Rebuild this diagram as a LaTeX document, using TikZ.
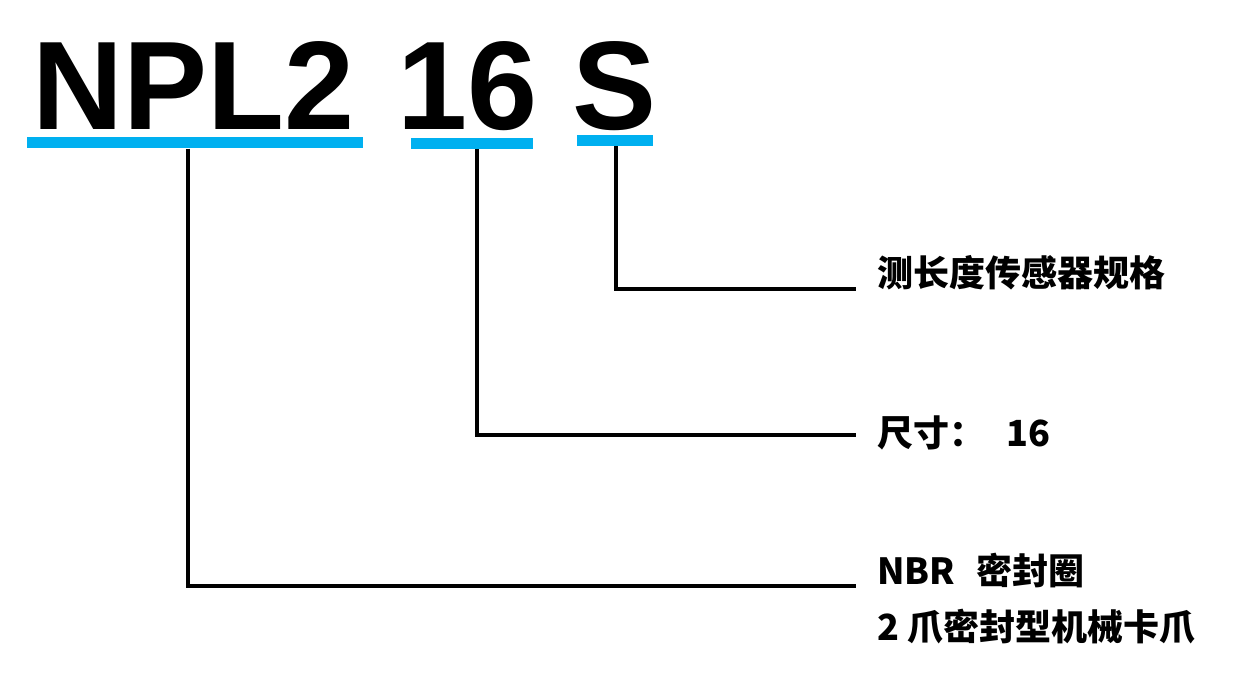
\documentclass[tikz,border=0pt]{standalone}
\usepackage{fontspec}
\setmainfont{Liberation Sans}
\newfontfamily\cjk{Noto Sans CJK SC}
\usetikzlibrary{positioning}
\definecolor{barblue}{RGB}{0,176,240}
\tikzset{
  code/.style={anchor=base west,inner sep=0pt,font=\fontsize{126}{130}\selectfont\bfseries},
  bar/.style={fill=barblue,inner sep=0pt,minimum height=11pt},
  lbl/.style={anchor=west,inner sep=0pt,font=\cjk\bfseries\fontsize{36}{40}\selectfont},
  lead/.style={line width=4pt},
}

\begin{document}
\begin{tikzpicture}[x=1pt,y=-1pt]
  \useasboundingbox (0,0) rectangle (1242,684);
  % model code
  \node[code] (npl) at (32,130) {NPL2};
  \node[code] (size) at (397,130) {16};
  \node[code] (spec) at (572,130) {S};
  % underlines
  \node[bar,minimum width=336pt] (bar1) at (195,143) {};
  \node[bar,minimum width=122pt] (bar2) at (471.5,143.5) {};
  \node[bar,minimum width=76pt] (bar3) at (615,140.5) {};
  % labels
  \node[lbl] (lspec) at (877,273) {测长度传感器规格};
  \node[lbl] (lsize) at (877,433) {尺寸：\hspace{0.6em}16};
  \node[lbl] (lseal) at (877,571) {NBR\hspace{0.6em}密封圈};
  \node[lbl] (ltype) at (877,627) {2 爪密封型机械卡爪};
  % leaders
  \coordinate (e3) at (856,289);
  \coordinate (e2) at (856,435);
  \coordinate (e1) at (856,585.5);
  \draw[lead] ([xshift=1pt]bar3.south) |- (e3);
  \draw[lead] ([xshift=5.5pt]bar2.south) |- (e2);
  \draw[lead] ([xshift=-7pt]bar1.south) |- (e1);
\end{tikzpicture}
\end{document}
